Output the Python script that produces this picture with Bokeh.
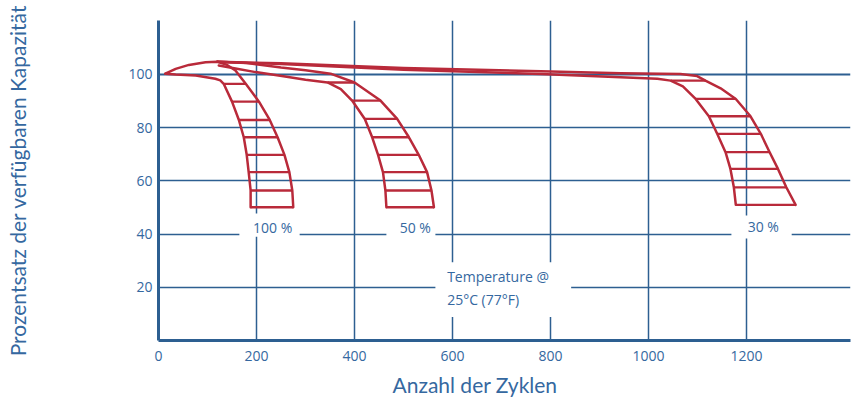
from bokeh.plotting import figure
from bokeh.models import FixedTicker, Span, Title
from bokeh.core.properties import value
from bokeh.embed import file_html
from bokeh.resources import INLINE

# ---- axis ticks ----
x_ticks = [0, 200, 400, 600, 800, 1000, 1200]
x_grid = [200, 400, 600, 800, 1000, 1200]
y_ticks = [20, 40, 60, 80, 100]
y_grid = [20, 40, 60, 80]

# ---- curves: cycles vs % capacity ----
# 100 % depth of discharge
c100_outer_x = [14, 35, 62, 96, 120, 140, 157, 178, 205, 227, 243, 257, 267, 273, 275]
c100_outer_y = [100.3, 102.1, 103.6, 104.6, 104.8, 103.6, 101.5, 96.5, 89.8, 82.9, 76.4, 69.8, 63.3, 56.4, 50.1]
c100_inner_x = [14, 35, 76, 116, 126, 133, 150, 164, 174, 180, 184, 188, 188]
c100_inner_y = [100.3, 100.0, 99.6, 98.4, 97.8, 96.5, 89.8, 82.9, 76.4, 69.8, 63.3, 56.4, 50.1]
# 50 %
c50_outer_x = [120, 180, 250, 300, 351, 400, 453, 487, 511, 531, 548, 557, 562]
c50_outer_y = [104.8, 104.3, 102.6, 101.6, 100.3, 97.0, 90.2, 83.3, 76.4, 69.8, 63.3, 56.4, 50.1]
c50_inner_x = [123, 160, 198, 255, 300, 345, 372, 395, 421, 436, 448, 458, 463, 465]
c50_inner_y = [103.4, 102.2, 100.9, 99.3, 98.0, 97.0, 94.5, 90.2, 83.3, 76.4, 69.8, 63.3, 56.4, 50.1]
# 30 %
c30_outer_x = [120, 250, 500, 780, 943, 1065, 1099, 1116, 1147, 1178, 1208, 1229, 1247, 1264, 1281, 1300]
c30_outer_y = [104.8, 104.2, 102.4, 101.2, 100.5, 100.2, 99.4, 97.7, 94.8, 90.8, 84.3, 77.7, 70.8, 64.5, 57.6, 51.0]
c30_inner_x = [120, 250, 500, 780, 943, 1018, 1045, 1070, 1096, 1123, 1140, 1157, 1167, 1174, 1178]
c30_inner_y = [104.8, 103.9, 101.8, 100.2, 99.0, 98.4, 97.7, 95.5, 90.8, 84.3, 77.7, 70.8, 64.5, 57.6, 51.0]

# ---- hatch rungs: level, left end, right end ----
h100_y = [96.5, 89.8, 82.9, 76.4, 69.8, 63.3, 56.4, 50.1]
h100_x0 = [133, 150, 164, 174, 180, 184, 188, 188]
h100_x1 = [178, 205, 227, 243, 257, 267, 273, 275]
h50_y = [97.0, 90.2, 83.3, 76.4, 69.8, 63.3, 56.4, 50.1]
h50_x0 = [345, 395, 421, 436, 448, 458, 463, 465]
h50_x1 = [400, 453, 487, 511, 531, 548, 557, 562]
h30_y = [97.7, 90.8, 84.3, 77.7, 70.8, 64.5, 57.6, 51.0]
h30_x0 = [1045, 1096, 1123, 1140, 1157, 1167, 1174, 1178]
h30_x1 = [1116, 1178, 1208, 1229, 1247, 1264, 1281, 1300]

# ---- labels ----
label_texts = ["100 %", "50 %", "30 %"]
label_x = [233, 524, 1234]
label_y = [42.6, 42.6, 42.9]
label_box_left = [165, 465, 1169]
label_box_right = [288, 565, 1292]
label_box_bottom = [39.0, 39.0, 38.3]
label_box_top = [47.7, 47.7, 47.0]
temp_lines = ["Temperature @", "25°C (77°F)"]
temp_x = [589, 589]
temp_y = [24.1, 15.4]
temp_box = [565, 842, 8.8, 29.4]
x_title = "Anzahl der Zyklen"
y_title = "Prozentsatz der verfügbaren Kapazität"

RED = "#b92a3a"
BLUE = "#2d5f91"
TXT = "#3568a0"

p = figure(width=851, height=409, x_range=(0, 1412), y_range=(0, 120.3),
           output_backend="svg", toolbar_location=None, title=None,
           min_border_left=158, min_border_right=1, min_border_top=20, min_border_bottom=69)
p.outline_line_color = None
p.background_fill_color = "white"

# axes
for ax in (p.xaxis[0], p.yaxis[0]):
    ax.axis_line_color = BLUE
    ax.axis_line_width = 3
    ax.major_tick_line_color = None
    ax.minor_tick_line_color = None
    ax.major_label_text_color = TXT
    ax.major_label_text_font = "Open Sans"
    ax.major_label_text_font_size = "14px"
p.xaxis.ticker = FixedTicker(ticks=x_ticks)
p.yaxis.ticker = FixedTicker(ticks=y_ticks)
p.xaxis.major_label_standoff = 4
p.yaxis.major_label_standoff = 0

p.yaxis.axis_label = y_title
p.yaxis.axis_label_standoff = 95
p.yaxis.axis_label_text_color = TXT
p.yaxis.axis_label_text_font = "Lato"
p.yaxis.axis_label_text_font_size = "21px"
p.yaxis.axis_label_text_font_style = "normal"

p.xgrid.ticker = FixedTicker(ticks=x_grid)
p.ygrid.ticker = FixedTicker(ticks=y_grid)
for g in (p.xgrid[0], p.ygrid[0]):
    g.grid_line_color = BLUE
    g.grid_line_width = 1.5
p.add_layout(Span(location=100, dimension="width", line_color=BLUE, line_width=2.2, level="underlay"))

# white boxes behind labels
p.quad(left=label_box_left, right=label_box_right, bottom=label_box_bottom, top=label_box_top,
       fill_color="white", line_color=None)
p.quad(left=[temp_box[0]], right=[temp_box[1]], bottom=[temp_box[2]], top=[temp_box[3]],
       fill_color="white", line_color=None)

# curves
p.multi_line(xs=[c100_outer_x, c100_inner_x, c50_outer_x, c50_inner_x, c30_outer_x, c30_inner_x],
             ys=[c100_outer_y, c100_inner_y, c50_outer_y, c50_inner_y, c30_outer_y, c30_inner_y],
             line_color=RED, line_width=2.5, line_join="round", line_cap="round")
p.segment(x0=h100_x0 + h50_x0 + h30_x0, x1=h100_x1 + h50_x1 + h30_x1,
          y0=h100_y + h50_y + h30_y, y1=h100_y + h50_y + h30_y,
          line_color=RED, line_width=2.3)

p.text(x=label_x, y=label_y, text=label_texts, text_align="center", text_baseline="middle",
       text_color=TXT, text_font=value("Open Sans"), text_font_size="14px")
p.text(x=temp_x, y=temp_y, text=temp_lines, text_align="left", text_baseline="middle",
       text_color=TXT, text_font=value("Open Sans"), text_font_size="14px")

# x axis title
p.add_layout(Title(text=x_title, align="left", offset=234, standoff=12, vertical_align="bottom",
                   text_color=TXT, text_font="Lato", text_font_size="21px",
                   text_font_style="normal"), "below")

open("out.html", "w").write(file_html(p, INLINE))
